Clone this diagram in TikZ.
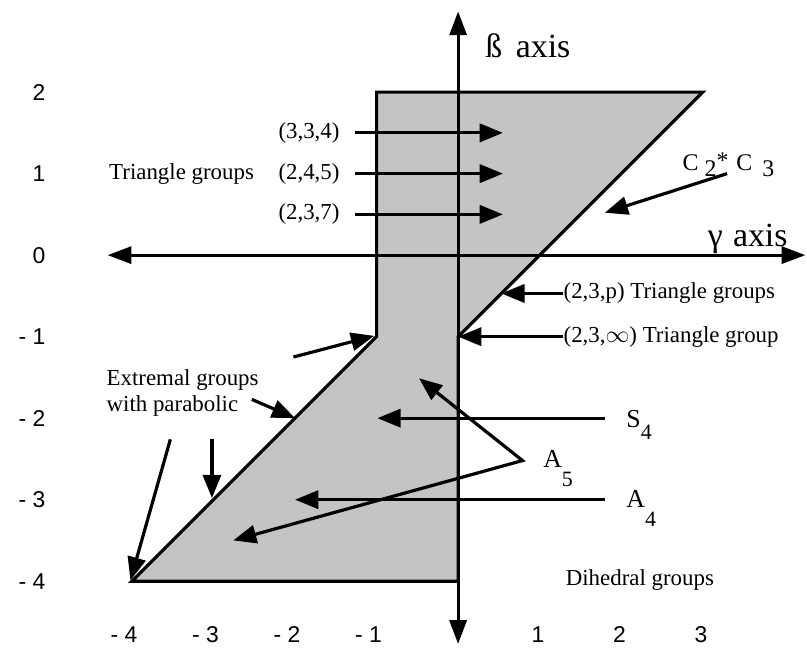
\documentclass[tikz,border=0pt]{standalone}
\usepackage{fontspec}
\setmainfont{Liberation Serif}
\setsansfont{Liberation Sans}
\usetikzlibrary{arrows.meta,positioning}
\definecolor{RegionGray}{RGB}{196,196,196}

\begin{document}
\begin{tikzpicture}[x=1.44cm,y=1.44cm]
  \tikzset{ax/.style={line width=1.6pt, {Triangle[length=4.2mm,width=3mm]}-{Triangle[length=4.2mm,width=3mm]}},
    pt/.style={line width=1.6pt, -{Triangle[length=4.1mm,width=3.2mm]}},
    lbl/.style={font=\fontsize{11.5}{13}\selectfont, inner sep=0pt},
    axl/.style={font=\fontsize{17}{19}\selectfont, inner sep=0pt, anchor=base west},
    grp/.style={font=\fontsize{13}{15}\selectfont, inner sep=0pt, anchor=base west},
    tick/.style={font=\sffamily\fontsize{11.5}{13}\selectfont, inner sep=0pt}}
  \useasboundingbox (-5.62,-4.92) rectangle (4.28,3.13);
  % shaded region
  \coordinate (r1) at (-1,2);
  \coordinate (r2) at (3,2);
  \coordinate (r3) at (0,-1);
  \coordinate (r4) at (0,-4);
  \coordinate (r5) at (-4,-4);
  \coordinate (r6) at (-1,-1);
  \filldraw[fill=RegionGray, line width=1.6pt, line join=miter] (r1) -- (r2) -- (r3) -- (r4) -- (r5) -- (r6) -- cycle;
  % axes
  \coordinate (bBot) at (0,-4.77);
  \coordinate (bTop) at (0,2.99);
  \coordinate (gL) at (-4.3,0);
  \coordinate (gR) at (4.26,0);
  \draw[ax] (bBot) -- (bTop);
  \draw[ax] (gL) -- (gR);
  \node[axl] (beta) at (0.33,2.42) {ß\hspace{0.4em}axis};
  \node[axl] (gamma) at (3.06,0.11) {γ\hspace{0.3em}axis};
  % tick labels
  \foreach \v/\t in {2/2,1/1,0/0,-1/- 1,-2/- 2,-3/- 3,-4/- 4}
    \node[tick, anchor=east] (yt\v) at (-5.06,\v) {\t};
  \foreach \v/\t in {-4/- 4,-3/- 3,-2/- 2,-1/- 1}
    \node[tick, anchor=east] (xt\v) at (\v+0.07,-4.66) {\t};
  \foreach \v in {1,2,3}
    \node[tick] (xt\v) at (\v-0.02,-4.66) {\v};
  % triangle groups
  \node[lbl, anchor=east] (tg) at (-2.5,1) {Triangle groups};
  \foreach \n/\t/\y in {a/{(3,3,4)}/1.5, b/{(2,4,5)}/1, c/{(2,3,7)}/0.5}{
    \node[lbl, anchor=east] (t\n) at (-1.45,\y) {\t};
    \coordinate (s\n) at (-1.27,\y);
    \coordinate (h\n) at (0.55,\y);
    \draw[pt] (s\n) -- (h\n);
  }
  % C2*C3
  \node[grp, font=\fontsize{12}{14}\selectfont] (cc) at (2.75,1.04) {C\hspace{3pt}\raisebox{-3pt}{2}\raisebox{1pt}{*}\hspace{4pt}C\hspace{5pt}\raisebox{-3pt}{3}};
  \coordinate (ccs) at (3.30,1.0);
  \coordinate (cct) at (1.80,0.52);
  \draw[pt] (ccs) -- (cct);
  % (2,3,p) and (2,3,oo)
  \node[lbl, anchor=west] (tp) at (1.29,-0.47) {(2,3,p) Triangle groups};
  \coordinate (tpt) at (0.53,-0.47);
  \draw[pt] (tp.west) -- (tpt);
  \node[lbl, anchor=west] (ti) at (1.29,-1) {(2,3,$\infty$) Triangle group};
  \draw[pt] (ti.west) -- (r3);
  % extremal groups
  \node[lbl, align=left] (ex) at (-3.38,-1.69) {Extremal groups\\with parabolic};
  \coordinate (e1) at (-2.02,-1.25);
  \coordinate (f1) at (-1.03,-0.99);
  \coordinate (e2) at (-2.53,-1.77);
  \coordinate (f2) at (-2.0,-2.0);
  \coordinate (e3) at (-3.02,-2.26);
  \coordinate (f3) at (-3.02,-2.98);
  \coordinate (e4) at (-3.53,-2.26);
  \coordinate (f4) at (-4.02,-3.99);
  \foreach \i in {1,2,3,4}
    \draw[pt] (e\i) -- (f\i);
  % finite groups
  \node[grp] (s4) at (2.06,-2.11) {S\raisebox{-6pt}{\fontsize{11}{13}\selectfont 4}};
  \coordinate (s4s) at (1.80,-2);
  \coordinate (s4t) at (-0.99,-2);
  \draw[pt] (s4s) -- (s4t);
  \node[grp] (a4) at (2.06,-3.10) {A\raisebox{-9.5pt}{\fontsize{11}{13}\selectfont 4}};
  \coordinate (a4s) at (1.80,-3);
  \coordinate (a4t) at (-2.0,-3);
  \draw[pt] (a4s) -- (a4t);
  \node[grp] (a5) at (1.04,-2.60) {A\raisebox{-10pt}{\fontsize{11}{13}\selectfont 5}};
  \coordinate (a5v) at (0.79,-2.52);
  \coordinate (a5u) at (-0.48,-1.51);
  \coordinate (a5l) at (-2.76,-3.5);
  \draw[line width=1.6pt, line join=miter, {Triangle[length=4.1mm,width=3.2mm]}-{Triangle[length=4.1mm,width=3.2mm]}] (a5u) -- (a5v) -- (a5l);
  \node[lbl] (dh) at (2.23,-3.99) {Dihedral groups};
\end{tikzpicture}
\end{document}
